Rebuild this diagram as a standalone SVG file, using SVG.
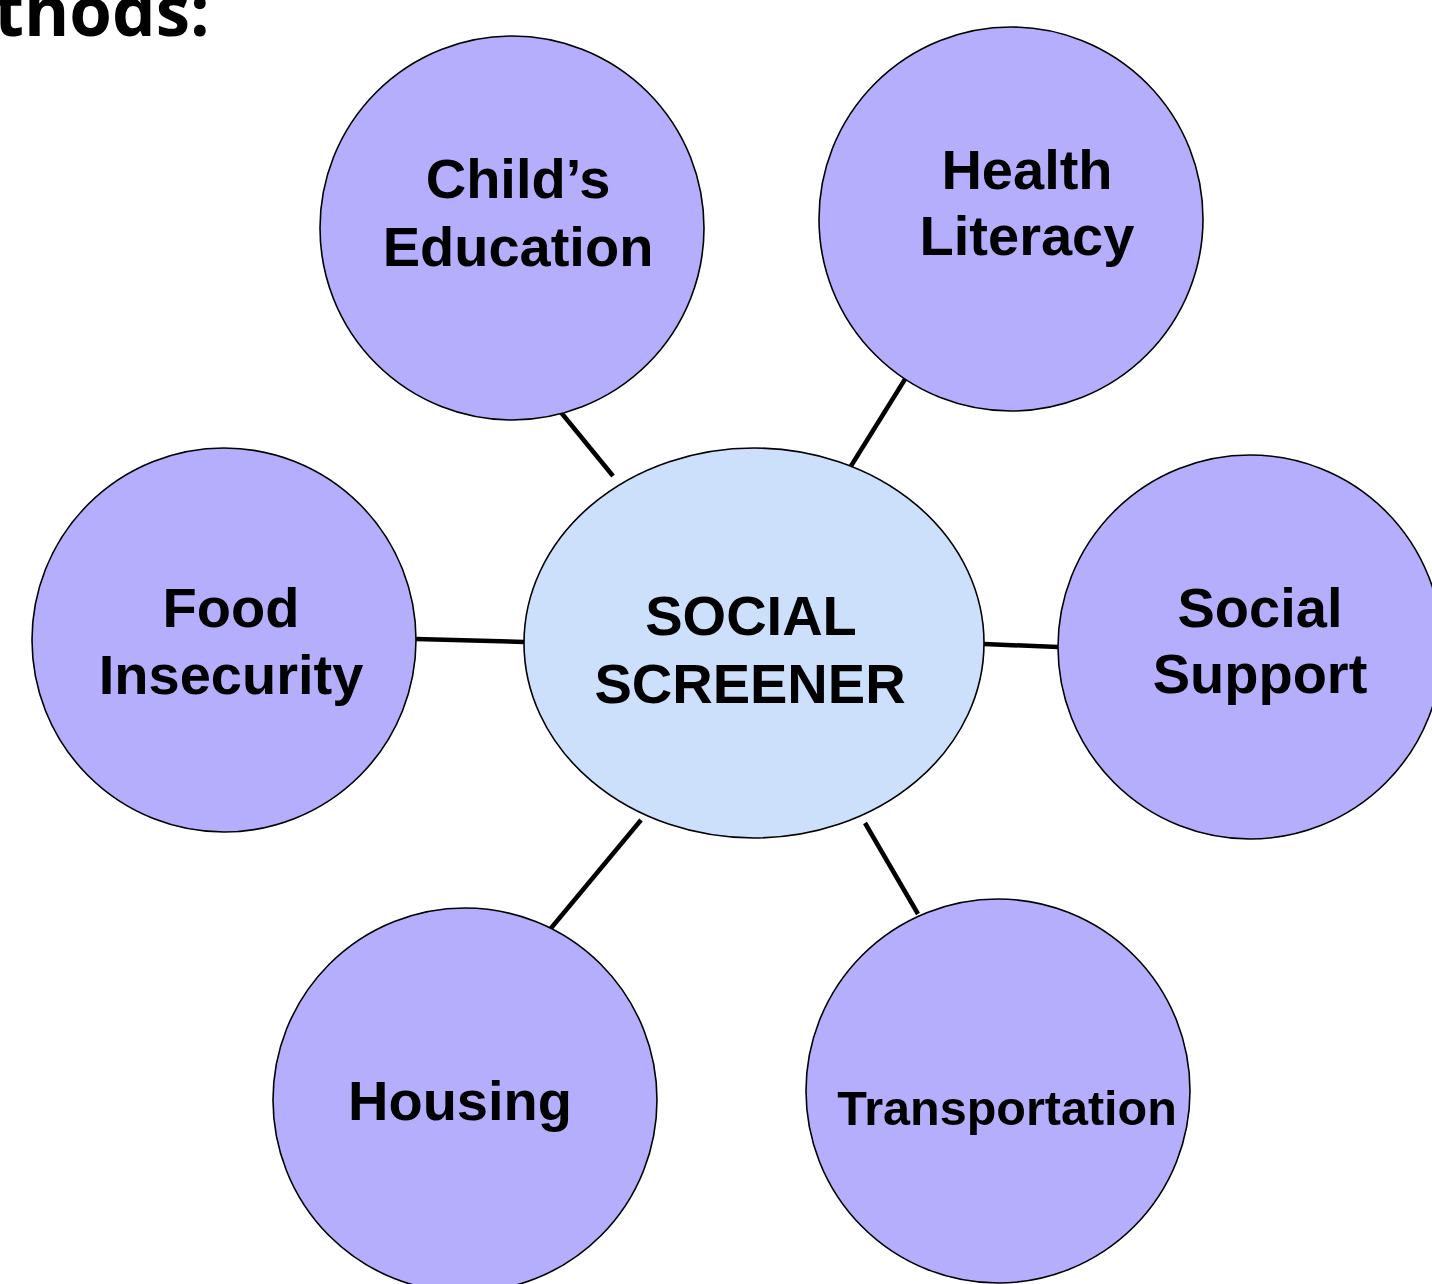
<svg xmlns="http://www.w3.org/2000/svg" width="1432" height="1284" viewBox="0 0 1432 1284">
<style>
.n{fill:#b4aefc;stroke:#000;stroke-width:1.6}
.c{fill:#cce0fc;stroke:#000;stroke-width:1.6}
.t{font-family:"Liberation Sans",Arial,sans-serif;font-weight:bold;font-size:56px;fill:#000;text-anchor:middle}
.e{stroke:#000;stroke-width:4.5;fill:none}
</style>
<rect width="1432" height="1284" fill="#fff"/>
<text x="-6" y="36" font-family="'Open Sans',sans-serif" font-weight="bold" font-size="69" fill="#000">thods:</text>
<g id="connectors">
<line class="e" x1="555" y1="405" x2="613" y2="476"/>
<line class="e" x1="907" y1="376" x2="851" y2="466"/>
<line class="e" x1="416" y1="639" x2="524" y2="642"/>
<line class="e" x1="984" y1="644" x2="1058" y2="647"/>
<line class="e" x1="641" y1="820" x2="547" y2="933"/>
<line class="e" x1="865" y1="823" x2="918" y2="914"/>
</g>
<g id="childs-education"><circle class="n" cx="512" cy="228" r="192"/><text class="t" x="518" y="198">Child’s</text><text class="t" x="518" y="266">Education</text></g>
<g id="health-literacy"><circle class="n" cx="1011" cy="219" r="192"/><text class="t" x="1027" y="189">Health</text><text class="t" x="1027" y="255">Literacy</text></g>
<g id="food-insecurity"><circle class="n" cx="224" cy="640" r="192"/><text class="t" x="231" y="627">Food</text><text class="t" x="231" y="694">Insecurity</text></g>
<g id="social-screener"><ellipse class="c" cx="754" cy="643" rx="230" ry="195"/><text class="t" x="751" y="635">SOCIAL</text><text class="t" x="750" y="703">SCREENER</text></g>
<g id="social-support"><circle class="n" cx="1250" cy="647" r="192"/><text class="t" x="1260" y="627">Social</text><text class="t" x="1260" y="693">Support</text></g>
<g id="housing"><circle class="n" cx="465" cy="1100" r="192"/><text class="t" x="460" y="1120">Housing</text></g>
<g id="transportation"><circle class="n" cx="998" cy="1091" r="192"/><text class="t" x="1007" y="1125" style="font-size:48.5px">Transportation</text></g>
</svg>
